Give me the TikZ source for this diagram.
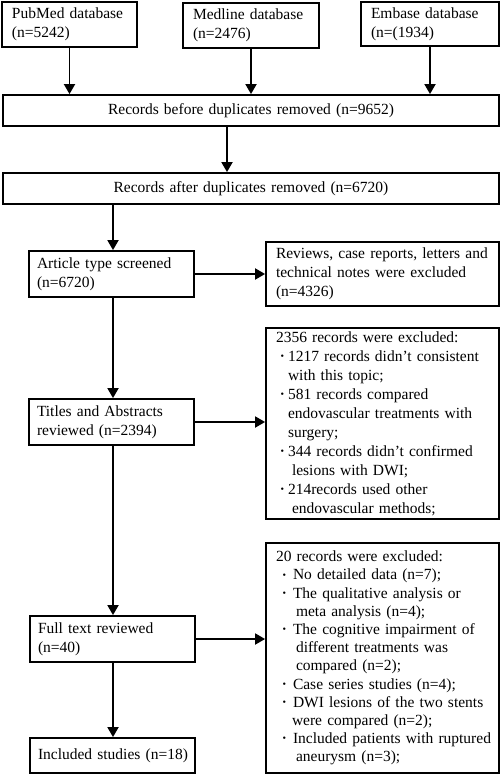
\documentclass[tikz,border=0pt]{standalone}
\usepackage{fontspec}
\setmainfont{Liberation Serif}
\usetikzlibrary{arrows.meta}
\newcommand{\sbul}{\raisebox{1.8pt}{\fontsize{10}{10}\selectfont •}}
\newcommand{\bua}[1]{\mbox{\makebox[12pt][l]{\hspace{4.5pt}\sbul}#1}}
\newcommand{\bub}[1]{\mbox{\makebox[17pt][l]{\hspace{6.5pt}\sbul}#1}}
\newcommand{\ind}[2]{\mbox{\hspace*{#1}#2}}
\begin{document}
\begin{tikzpicture}[x=1pt,y=1pt,
  box/.style={draw,line width=1.8pt,rectangle,inner xsep=10pt,inner ysep=0pt,align=left,
    font=\fontsize{15.5}{18.8}\selectfont},
  lbox/.style={box,text width=149pt,inner xsep=8pt},
  cbox/.style={box,align=center},
  arr/.style={line width=1.8pt,-{Triangle[length=10pt,width=11pt]}}]
\useasboundingbox (0,0) rectangle (500,-775);

\node[box,text width=115pt,minimum height=45pt] (pub) at (69.5,-24.5) {\mbox{PubMed database}\\(n=5242)};
\node[box,text width=116pt,minimum height=45pt] (med) at (251,-25.5) {\mbox{Medline database}\\(n=2476)};
\node[box,text width=118pt,minimum height=44pt] (emb) at (430,-24) {\mbox{Embase database}\\(n=(1934)};

\node[cbox,text width=476pt,minimum height=31pt] (rb) at (251,-110.5) {Records before duplicates removed (n=9652)};
\node[cbox,text width=476pt,minimum height=31pt] (ra) at (251,-188.5) {Records after duplicates removed (n=6720)};

\node[lbox,minimum height=46pt] (art) at (111.5,-274) {\mbox{Article type screened}\\(n=6720)};
\node[box,text width=213pt,minimum height=64pt] (rev) at (382.5,-274) {\mbox{Reviews, case reports, letters and}\\\mbox{technical notes were excluded}\\(n=4326)};

\node[lbox,minimum height=46pt] (ta) at (111.5,-422) {\mbox{Titles and Abstracts}\\\mbox{reviewed (n=2394)}};
\node[box,text width=213pt,minimum height=191pt,font=\fontsize{15.5}{19}\selectfont] (ex2) at (382.5,-423.5) {\mbox{2356 records were excluded:}\\
\bua{1217 records didn’t consistent}\\
\ind{12pt}{with this topic;}\\
\bua{581 records compared}\\
\ind{12pt}{endovascular treatments with}\\
\ind{12pt}{surgery;}\\
\bua{344 records didn’t confirmed}\\
\ind{16pt}{lesions with DWI;}\\
\bua{214records used other}\\
\ind{16pt}{endovascular methods;}};

\node[lbox,minimum height=46pt] (ft) at (112.5,-639) {\mbox{Full text reviewed}\\(n=40)};
\node[box,text width=213pt,minimum height=230pt,font=\fontsize{15.5}{18.2}\selectfont] (ex3) at (382.5,-658) {\mbox{20 records were excluded:}\\
\bub{No detailed data (n=7);}\\
\bub{The qualitative analysis or}\\
\ind{20pt}{meta analysis (n=4);}\\
\bub{The cognitive impairment of}\\
\ind{20pt}{different treatments was}\\
\ind{20pt}{compared (n=2);}\\
\bub{Case series studies (n=4);}\\
\bub{DWI lesions of the two stents}\\
\ind{16pt}{were compared (n=2);}\\
\bub{Included patients with ruptured}\\
\ind{20pt}{aneurysm (n=3);}};

\node[lbox,minimum height=35pt] (inc) at (112.5,-755.5) {\mbox{Included studies (n=18)}};

\draw[arr] (pub.south) -- (pub.south |- rb.north);
\draw[arr] (med.south) -- (med.south |- rb.north);
\draw[arr] (emb.south) -- (emb.south |- rb.north);
\coordinate (c1) at (227,0);
\draw[arr] (c1 |- rb.south) -- (c1 |- ra.north);
\coordinate (c2) at (113,0);
\draw[arr] (c2 |- ra.south) -- (c2 |- art.north);
\draw[arr] (art.east) -- (art.east -| rev.west);
\draw[arr] (c2 |- art.south) -- (c2 |- ta.north);
\draw[arr] (ta.east) -- (ta.east -| ex2.west);
\draw[arr] (c2 |- ta.south) -- (c2 |- ft.north);
\draw[arr] (ft.east) -- (ft.east -| ex3.west);
\draw[arr] (c2 |- ft.south) -- (c2 |- inc.north);
\end{tikzpicture}
\end{document}
